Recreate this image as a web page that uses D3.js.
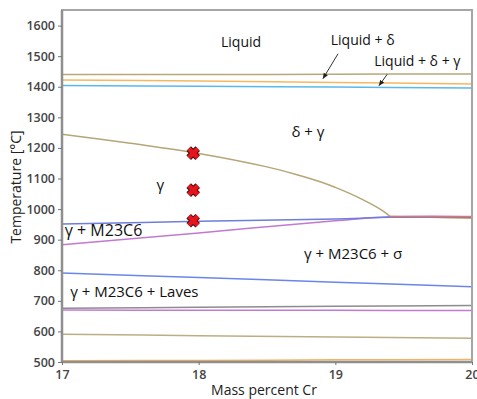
<!DOCTYPE html>
<html lang='en'>
<head>
  <title>Phase diagram</title>
  <script src='https://cdn.jsdelivr.net/npm/d3@7'></script>
  <style>
    body { margin: 0; background: #fff; }
    text { font-family: "Open Sans", "Noto Sans", sans-serif; }
  </style>
</head>
<body>
  <script>
    // x ticks / y ticks
    let xTicks = [17, 18, 19, 20];
    let yTicks = [500, 600, 700, 800, 900, 1000, 1100, 1200, 1300, 1400, 1500, 1600];

    // phase boundary lines, [mass % Cr, temperature]
    let liquidTop = [[17, 1440], [18, 1440], [19, 1441], [20, 1442]];
    let liquidMid = [[17, 1422], [18, 1419], [19, 1414], [20, 1409]];
    let liquidLow = [[17, 1404], [18, 1402], [19, 1399], [20, 1396]];
    let gammaDelta = [[17, 1245], [17.5, 1215], [18, 1182], [18.5, 1138], [18.7, 1115], [18.9, 1088],
      [19.0, 1071], [19.1, 1052], [19.2, 1031], [19.3, 1007], [19.35, 993], [19.4, 976]];
    let gammaDeltaTail = [[19.4, 976], [19.7, 973], [20, 970]];
    let m23Upper = [[17, 951], [18, 960], [19, 968], [19.4, 973], [20, 973]];
    let m23Lower = [[17, 883], [18, 922], [19, 962], [19.4, 975], [20, 976]];
    let sigmaShort = [[19.4, 976], [20, 975]];
    let sigmaLine = [[17, 791], [18, 776], [19, 761], [20, 746]];
    let lavesGray = [[17, 676], [18, 679], [19, 682], [20, 685]];
    let lavesPurple = [[17, 670], [18, 669], [19, 669], [20, 668]];
    let lowTan = [[17, 591], [18, 586], [19, 582], [20, 578]];
    let lowOrange = [[17, 504], [18, 505], [19, 507], [20, 508]];

    // experiment points
    let samples = [[17.96, 1183], [17.96, 1062], [17.96, 962]];

    let lines = [
      { data: liquidTop, color: "#b8a77a" },
      { data: liquidMid, color: "#f5b862" },
      { data: liquidLow, color: "#5ab8ea" },
      { data: gammaDelta, color: "#b5a577" },
      { data: gammaDeltaTail, color: "#b5a577" },
      { data: m23Lower, color: "#c27ad0" },
      { data: m23Upper, color: "#6d7fd8" },
      { data: sigmaShort, color: "#d9776a" },
      { data: sigmaLine, color: "#6b86ea" },
      { data: lavesGray, color: "#8c8c8c" },
      { data: lavesPurple, color: "#c47ad2" },
      { data: lowTan, color: "#bcae84" },
      { data: lowOrange, color: "#f3b360" }
    ];

    let labels = [
      { text: "Liquid", x: 18.31, y: 1543, size: 14, anchor: "middle" },
      { text: "Liquid + δ", x: 19.2, y: 1548, size: 14, anchor: "middle" },
      { text: "Liquid + δ + γ", x: 19.6, y: 1481, size: 14, anchor: "middle" },
      { text: "δ + γ", x: 18.80, y: 1248, size: 15, anchor: "middle" },
      { text: "γ", x: 17.72, y: 1076, size: 15, anchor: "middle" },
      { text: "γ + M23C6", x: 17.02, y: 925, size: 16, anchor: "start" },
      { text: "γ + M23C6 + σ", x: 19.13, y: 850, size: 15, anchor: "middle" },
      { text: "γ + M23C6 + Laves", x: 17.06, y: 725, size: 15, anchor: "start" }
    ];

    let arrows = [
      { from: [19.02, 1508], to: [18.91, 1427] },
      { from: [19.38, 1441], to: [19.32, 1404] }
    ];

    let width = 410, height = 352;
    let margins = { left: 62, top: 10 };
    let svg = d3.select("body").append("svg")
      .attr("width", 477)
      .attr("height", 399);

    let xScale = d3.scaleLinear().domain([17, 20]).range([0, width]);
    let yScale = d3.scaleLinear().domain([500, 1651]).range([height, 0]);

    let container = svg.append("g")
      .attr("transform", `translate(${margins.left}, ${margins.top})`);

    let line = d3.line()
      .x(d => xScale(d[0]))
      .y(d => yScale(d[1]))
      .curve(d3.curveCatmullRom);

    container.selectAll(".bound").data(lines).join("path")
      .classed("bound", true)
      .attr("d", d => line(d.data))
      .attr("stroke", d => d.color)
      .attr("stroke-width", 1.5)
      .attr("fill", "none");

    // frame
    container.append("rect")
      .attr("width", width).attr("height", height)
      .attr("fill", "none")
      .attr("stroke", "#a6a6a6")
      .attr("stroke-width", 2);
    container.append("line")
      .attr("x1", 0).attr("x2", 0).attr("y1", 0).attr("y2", height)
      .attr("stroke", "#8f8f8f").attr("stroke-width", 2.5);
    container.append("line")
      .attr("x1", 0).attr("x2", width).attr("y1", height).attr("y2", height)
      .attr("stroke", "#8f8f8f").attr("stroke-width", 2.5);

    // axes
    let xAxis = d3.axisBottom(xScale).tickValues(xTicks).tickSize(3).tickFormat(d3.format("d"));
    let xAxisG = container.append("g")
      .attr("transform", `translate(0, ${height})`)
      .call(xAxis);
    let yAxis = d3.axisLeft(yScale).tickValues(yTicks).tickSize(4).tickFormat(d3.format("d"));
    let yAxisG = container.append("g").call(yAxis);
    [xAxisG, yAxisG].forEach(g => {
      g.select(".domain").remove();
      g.selectAll("line").attr("stroke", "#777");
      g.selectAll("text").attr("fill", "#444").attr("font-size", 12.5).attr("font-weight", 600);
    });
    xAxisG.selectAll("text").attr("dy", "0.9em");

    // markers: thick red cross with dark outline
    let xMark = d3.line()([[-4.5, -4.5], [4.5, 4.5]]) + d3.line()([[-4.5, 4.5], [4.5, -4.5]]);
    let markers = container.selectAll(".sample").data(samples).join("g")
      .classed("sample", true)
      .attr("transform", d => `translate(${xScale(d[0])}, ${yScale(d[1])})`);
    markers.append("path").attr("d", xMark)
      .attr("stroke", "#3a1010").attr("stroke-width", 6.5).attr("fill", "none");
    markers.append("path").attr("d", xMark)
      .attr("stroke", "#e8141b").attr("stroke-width", 4.5).attr("fill", "none");

    // arrows
    svg.append("defs").append("marker")
      .attr("id", "head")
      .attr("viewBox", "0 0 10 10")
      .attr("refX", 9).attr("refY", 5)
      .attr("markerWidth", 6).attr("markerHeight", 6)
      .attr("orient", "auto")
      .append("path").attr("d", "M0,1 L10,5 L0,9 Z").attr("fill", "#222");
    container.selectAll(".arrow").data(arrows).join("line")
      .classed("arrow", true)
      .attr("x1", d => xScale(d.from[0])).attr("y1", d => yScale(d.from[1]))
      .attr("x2", d => xScale(d.to[0])).attr("y2", d => yScale(d.to[1]))
      .attr("stroke", "#333").attr("stroke-width", 1)
      .attr("marker-end", "url(#head)");

    // region labels
    container.selectAll(".region").data(labels).join("text")
      .classed("region", true)
      .text(d => d.text)
      .attr("x", d => xScale(d.x))
      .attr("y", d => yScale(d.y))
      .attr("font-size", d => d.size)
      .attr("text-anchor", d => d.anchor)
      .attr("dominant-baseline", "middle")
      .attr("fill", "#111");

    // axis titles
    svg.append("text").text("Mass percent Cr")
      .attr("x", margins.left + width / 2 - 3).attr("y", 391)
      .attr("text-anchor", "middle").attr("dominant-baseline", "middle")
      .attr("font-size", 14).attr("fill", "#222");
    svg.append("g")
      .attr("transform", `translate(17, 187)`)
      .append("text").text("Temperature [°C]")
      .attr("text-anchor", "middle").attr("dominant-baseline", "middle")
      .attr("transform", "rotate(-90)")
      .attr("font-size", 14).attr("fill", "#222");
  </script>
</body>
</html>
